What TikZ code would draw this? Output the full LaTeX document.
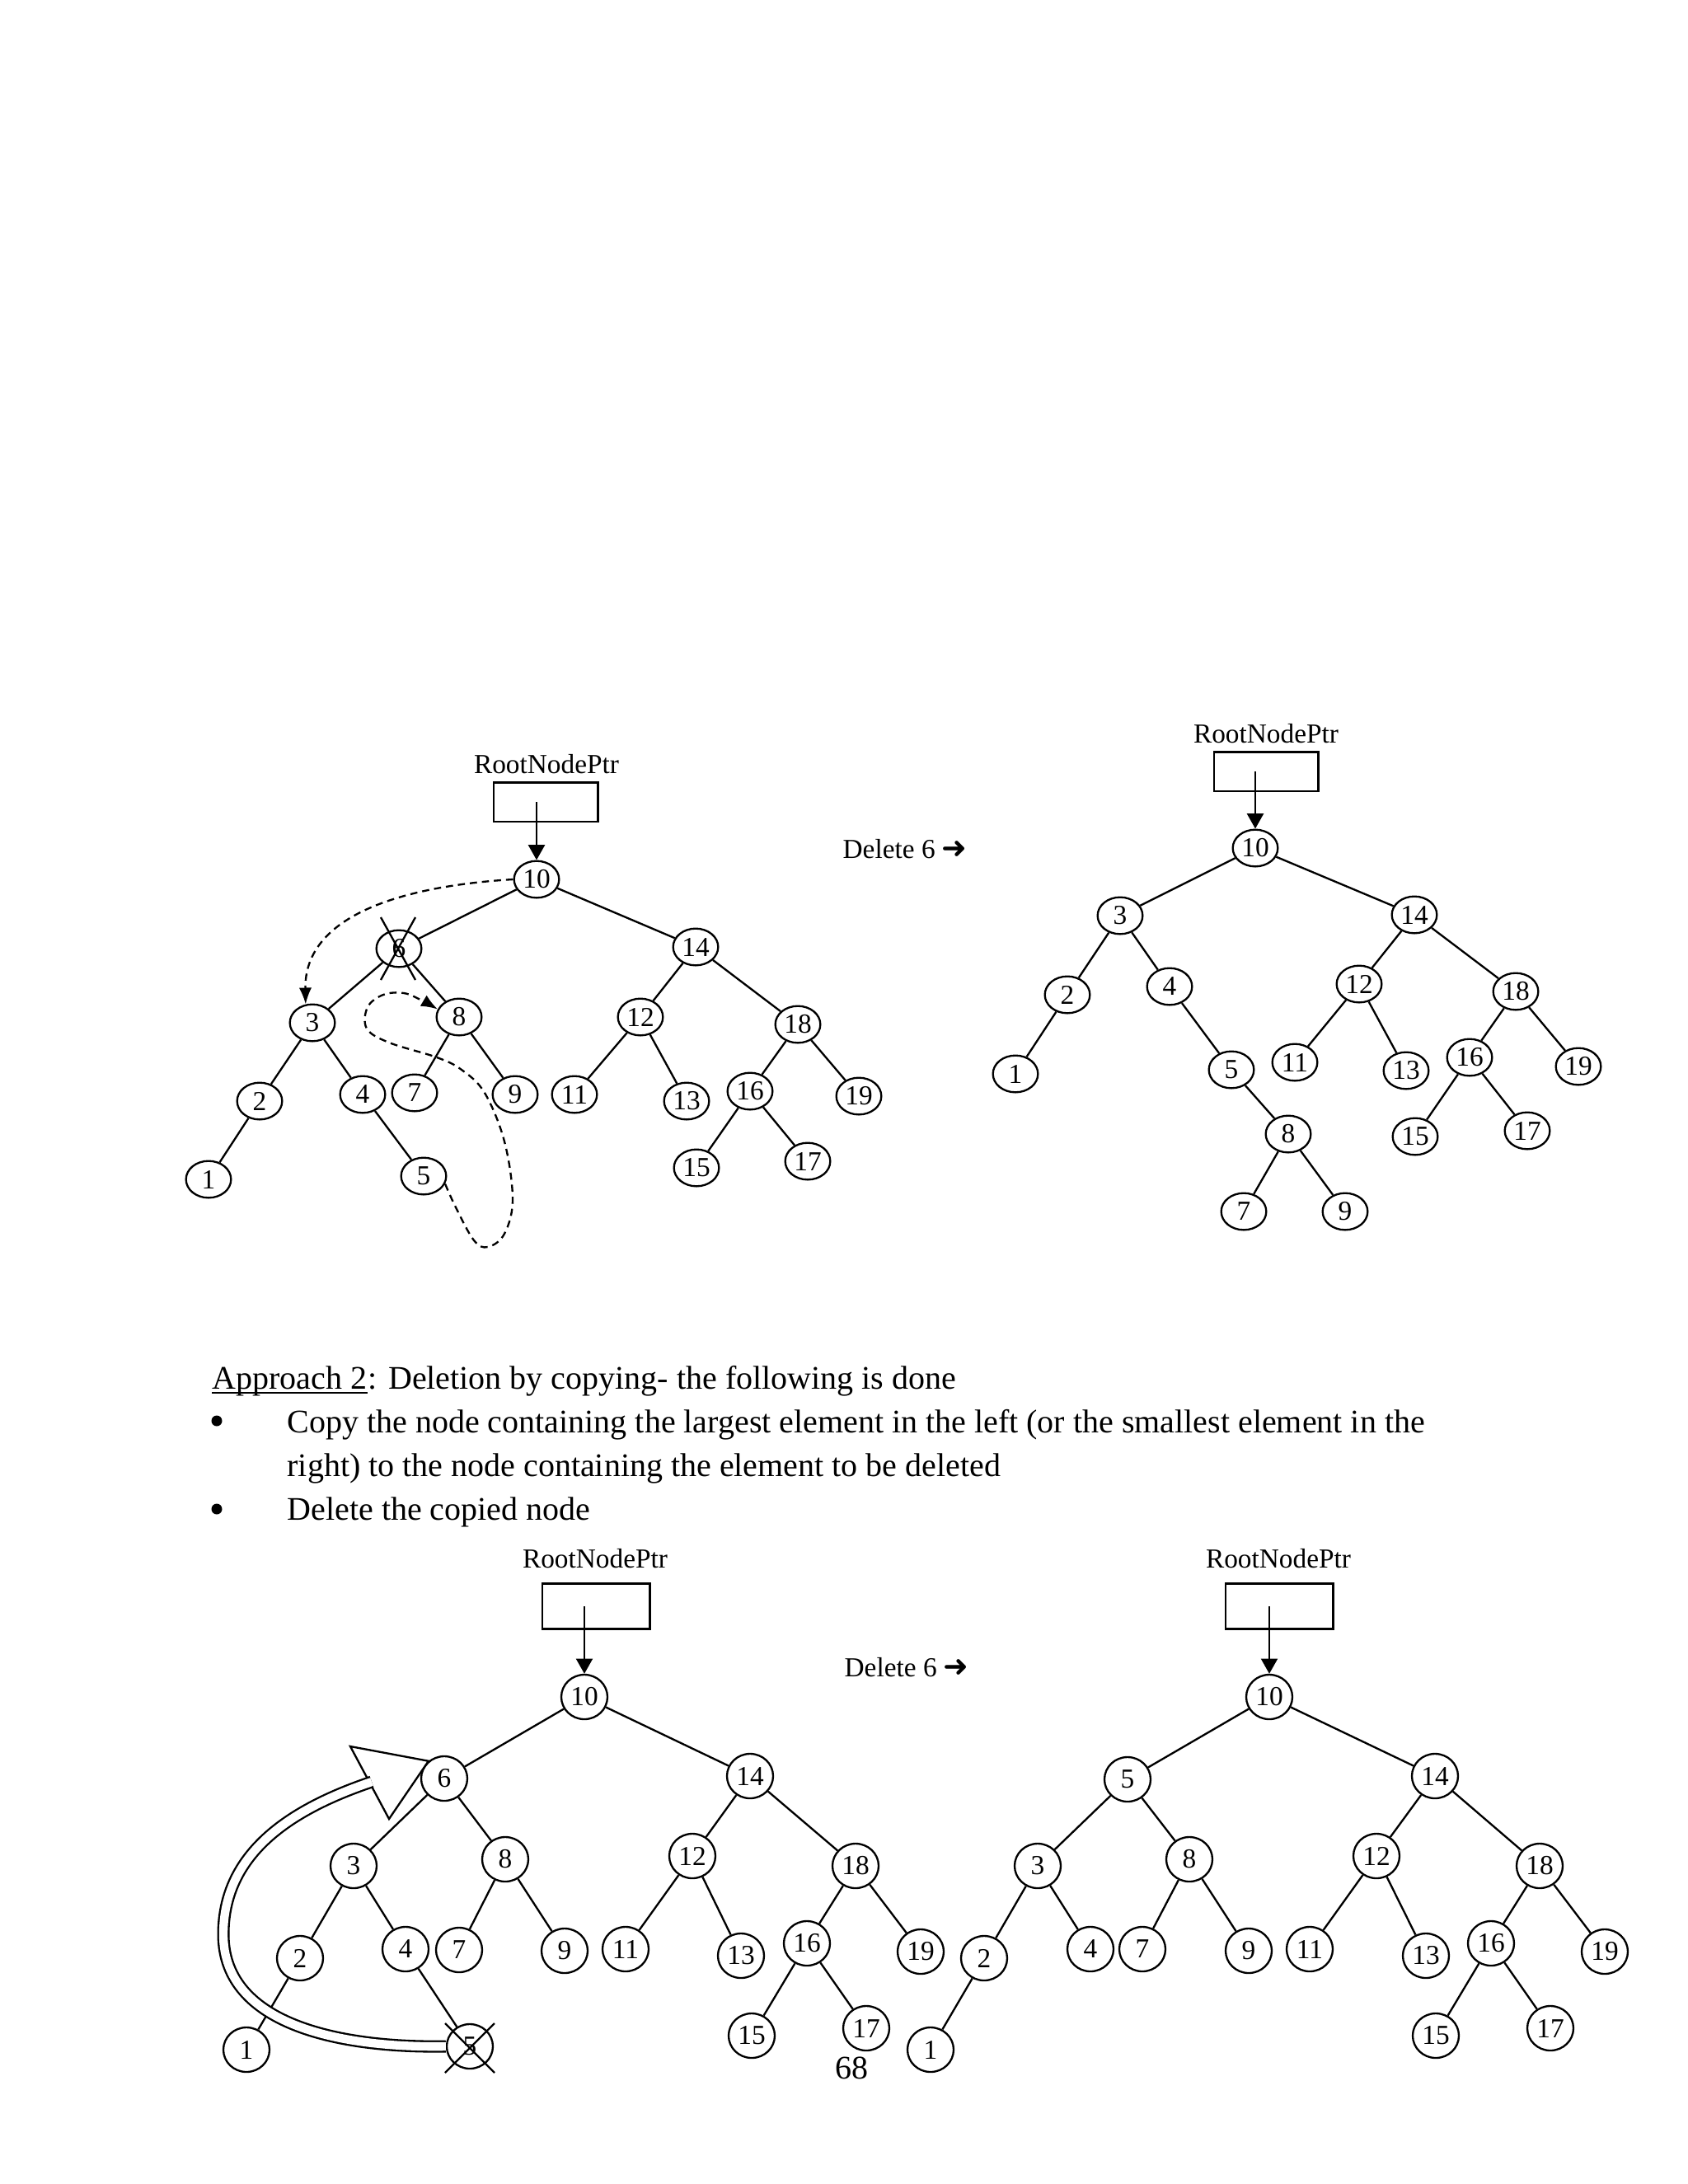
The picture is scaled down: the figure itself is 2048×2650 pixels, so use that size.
\documentclass[tikz,border=0pt]{standalone}
\usepackage{fontspec}
\setmainfont{Liberation Serif}
\newfontfamily\symfont{DejaVu Sans Bold}
\usetikzlibrary{arrows.meta, shapes.geometric}

\begin{document}
\begin{tikzpicture}[
    x=0.010542cm, y=-0.010542cm, font=\fontsize{10}{12}\selectfont,
    nod/.style={draw, ellipse, line width=0.7pt, inner sep=0pt,
                minimum width=16.4pt, minimum height=13.4pt},
    nodc/.style={draw, ellipse, line width=0.7pt, inner sep=0pt,
                 minimum width=16.8pt, minimum height=16.2pt},
    lnk/.style={line width=0.7pt},
    pbox/.style={draw, line width=0.8pt, inner sep=0pt,
                 minimum width=37.9pt, minimum height=14.3pt},
    pboxc/.style={pbox, minimum width=39.1pt, minimum height=16.4pt},
    ptr/.style={-{Triangle[length=5.5pt, width=6pt]}, line width=0.7pt},
    dsh/.style={dash pattern=on 2.6pt off 1.8pt, line width=0.7pt,
                -{Latex[length=6pt, width=4.6pt]}},
    lbl/.style={font=\fontsize{10}{12}\selectfont, inner sep=0pt, anchor=base},
    txt/.style={font=\fontsize{12}{14}\selectfont, inner sep=0pt, anchor=base west},
    bul/.style={circle, fill, inner sep=0pt, minimum size=3.9pt},
]
\useasboundingbox (0,0) rectangle (2048,2650);

% ===================== Tree A (before) =====================
\node[lbl] (rootA) at (663,938) {RootNodePtr};
\node[pbox] (boxA) at (662,973) {};

\node[nod] (a10) at (651,1067) {10};
\node[nod] (a6)  at (484,1151) {6};
\node[nod] (a14) at (844,1149) {14};
\node[nod] (a3)  at (379,1241) {3};
\node[nod] (a8)  at (557,1234) {8};
\node[nod] (a12) at (777,1234) {12};
\node[nod] (a18) at (968,1243) {18};
\node[nod] (a2)  at (315,1336) {2};
\node[nod] (a4)  at (440,1328) {4};
\node[nod] (a7)  at (503,1326) {7};
\node[nod] (a9)  at (625,1328) {9};
\node[nod] (a11) at (697,1328) {11};
\node[nod] (a13) at (833,1336) {13};
\node[nod] (a16) at (910,1324) {16};
\node[nod] (a19) at (1042,1330) {19};
\node[nod] (a1)  at (253,1431) {1};
\node[nod] (a5)  at (514,1427) {5};
\node[nod] (a15) at (845,1417) {15};
\node[nod] (a17) at (980,1409) {17};

\draw[ptr] (a10 |- boxA.center) -- (a10);
\draw[lnk] (a10) -- (a6)  (a10) -- (a14)  (a6) -- (a3)  (a6) -- (a8)
           (a3) -- (a2)  (a3) -- (a4)  (a2) -- (a1)  (a4) -- (a5)
           (a8) -- (a7)  (a8) -- (a9)  (a14) -- (a12)  (a14) -- (a18)
           (a12) -- (a11)  (a12) -- (a13)  (a18) -- (a16)  (a18) -- (a19)
           (a16) -- (a15)  (a16) -- (a17);

% crossed-out node 6
\draw[lnk] ([shift={(-22,-38)}]a6.center) -- ([shift={(20,38)}]a6.center);
\draw[lnk] ([shift={(20,-38)}]a6.center) -- ([shift={(-22,38)}]a6.center);

% dashed moves
\draw[dsh] (a10.west) .. controls (490,1075) and (369,1110) .. (a3.110);
\draw[dsh] plot[smooth, tension=0.6] coordinates {(a5.-20) (553,1465)
      (575,1505) (592,1513) (612,1497) (622,1455) (612,1385) (588,1326)
      (560,1298) (530,1283) (472,1265) (445,1248) (446,1222) (465,1207)
      (490,1205) (512,1214) (a8.160)};

\node[lbl, anchor=base west] (delA) at (1022,1041) {Delete 6 {\symfont\fontsize{11}{12}\selectfont\char"279C}};

% ===================== Tree B (after) =====================
\node[lbl] (rootB) at (1536,901) {RootNodePtr};
\node[pbox] (boxB) at (1536,936) {};

\node[nod] (b10) at (1523,1029) {10};
\node[nod] (b3)  at (1359,1111) {3};
\node[nod] (b14) at (1716,1110) {14};
\node[nod] (b2)  at (1295,1207) {2};
\node[nod] (b4)  at (1419,1197) {4};
\node[nod] (b12) at (1649,1194) {12};
\node[nod] (b18) at (1839,1203) {18};
\node[nod] (b1)  at (1232,1303) {1};
\node[nod] (b5)  at (1494,1298) {5};
\node[nod] (b11) at (1571,1289) {11};
\node[nod] (b13) at (1706,1299) {13};
\node[nod] (b16) at (1783,1283) {16};
\node[nod] (b19) at (1915,1294) {19};
\node[nod] (b8)  at (1563,1376) {8};
\node[nod] (b15) at (1717,1379) {15};
\node[nod] (b17) at (1853,1372) {17};
\node[nod] (b7)  at (1509,1470) {7};
\node[nod] (b9)  at (1632,1470) {9};

\draw[ptr] (b10 |- boxB.center) -- (b10);
\draw[lnk] (b10) -- (b3)  (b10) -- (b14)  (b3) -- (b2)  (b3) -- (b4)
           (b2) -- (b1)  (b4) -- (b5)  (b5) -- (b8)  (b8) -- (b7)  (b8) -- (b9)
           (b14) -- (b12)  (b14) -- (b18)  (b12) -- (b11)  (b12) -- (b13)
           (b18) -- (b16)  (b18) -- (b19)  (b16) -- (b15)  (b16) -- (b17);

% ===================== Approach 2 text =====================
\node[txt] (apr) at (257,1685) {Approach 2};
\draw[line width=0.6pt] ([yshift=-1.5pt]apr.base west) -- ([yshift=-1.5pt]apr.base east);
\node[txt] (aprT) at (apr.base east) {: Deletion by copying- the following is done};
\node[bul] (bul1) at (263,1724) {};
\node[txt] (itm1) at (348,1738) {Copy the node containing the largest element in the left (or the smallest element in the};
\node[txt] (itm1b) at (348,1791) {right) to the node containing the element to be deleted};
\node[bul] (bul2) at (263,1831) {};
\node[txt] (itm2) at (348,1844) {Delete the copied node};

% ===================== Tree C (before) =====================
\node[lbl] (rootC) at (722,1902) {RootNodePtr};
\node[pboxc] (boxC) at (723,1949) {};

\node[nodc] (c10) at (709,2059) {10};
\node[nodc] (c6)  at (539,2158) {6};
\node[nodc] (c14) at (910,2155) {14};
\node[nodc] (c3)  at (429,2264) {3};
\node[nodc] (c8)  at (613,2256) {8};
\node[nodc] (c12) at (840,2252) {12};
\node[nodc] (c18) at (1038,2264) {18};
\node[nodc] (c2)  at (364,2376) {2};
\node[nodc] (c4)  at (492,2365) {4};
\node[nodc] (c7)  at (557,2366) {7};
\node[nodc] (c9)  at (685,2367) {9};
\node[nodc] (c11) at (759,2365) {11};
\node[nodc] (c13) at (899,2373) {13};
\node[nodc] (c16) at (979,2358) {16};
\node[nodc] (c19) at (1117,2368) {19};
\node[nodc] (c1)  at (299,2487) {1};
\node[nodc] (c5)  at (570,2483) {5};
\node[nodc] (c15) at (912,2470) {15};
\node[nodc] (c17) at (1051,2461) {17};

\draw[ptr] (c10 |- boxC.center) -- (c10);
\draw[lnk] (c10) -- (c6)  (c10) -- (c14)  (c6) -- (c3)  (c6) -- (c8)
           (c3) -- (c2)  (c3) -- (c4)  (c2) -- (c1)  (c4) -- (c5)
           (c8) -- (c7)  (c8) -- (c9)  (c14) -- (c12)  (c14) -- (c18)
           (c12) -- (c11)  (c12) -- (c13)  (c18) -- (c16)  (c18) -- (c19)
           (c16) -- (c15)  (c16) -- (c17);

% crossed-out node 5
\draw[lnk] ([shift={(-30,-28)}]c5.center) -- ([shift={(30,32)}]c5.center);
\draw[lnk] ([shift={(30,-28)}]c5.center) -- ([shift={(-30,32)}]c5.center);

% hollow copy arrow 5 -> 6
\coordinate (tipC) at (c6.132);
\draw[lnk, fill=white] (425,2119) -- (tipC) -- (472,2207) -- cycle;
\draw[lnk, double, double distance=3.1pt] (c5.west) .. controls (420,2485)
      and (271,2460) .. (271,2347) .. controls (271,2250) and (350,2196) .. (451,2162);

\node[lbl, anchor=base west] (delC) at (1024,2034) {Delete 6 {\symfont\fontsize{11}{12}\selectfont\char"279C}};
\node[txt, anchor=base] (pg) at (1033,2522) {68};

% ===================== Tree D (after) =====================
\node[lbl] (rootD) at (1551,1902) {RootNodePtr};
\node[pboxc] (boxD) at (1552,1949) {};

\node[nodc] (d10) at (1540,2059) {10};
\node[nodc] (d5)  at (1368,2159) {5};
\node[nodc] (d14) at (1741,2155) {14};
\node[nodc] (d3)  at (1259,2264) {3};
\node[nodc] (d8)  at (1443,2256) {8};
\node[nodc] (d12) at (1670,2252) {12};
\node[nodc] (d18) at (1868,2264) {18};
\node[nodc] (d2)  at (1194,2376) {2};
\node[nodc] (d4)  at (1323,2365) {4};
\node[nodc] (d7)  at (1386,2365) {7};
\node[nodc] (d9)  at (1515,2367) {9};
\node[nodc] (d11) at (1589,2365) {11};
\node[nodc] (d13) at (1730,2373) {13};
\node[nodc] (d16) at (1809,2358) {16};
\node[nodc] (d19) at (1947,2368) {19};
\node[nodc] (d1)  at (1129,2487) {1};
\node[nodc] (d15) at (1742,2470) {15};
\node[nodc] (d17) at (1881,2461) {17};

\draw[ptr] (d10 |- boxD.center) -- (d10);
\draw[lnk] (d10) -- (d5)  (d10) -- (d14)  (d5) -- (d3)  (d5) -- (d8)
           (d3) -- (d2)  (d3) -- (d4)  (d2) -- (d1)  (d8) -- (d7)  (d8) -- (d9)
           (d14) -- (d12)  (d14) -- (d18)  (d12) -- (d11)  (d12) -- (d13)
           (d18) -- (d16)  (d18) -- (d19)  (d16) -- (d15)  (d16) -- (d17);

\end{tikzpicture}
\end{document}
